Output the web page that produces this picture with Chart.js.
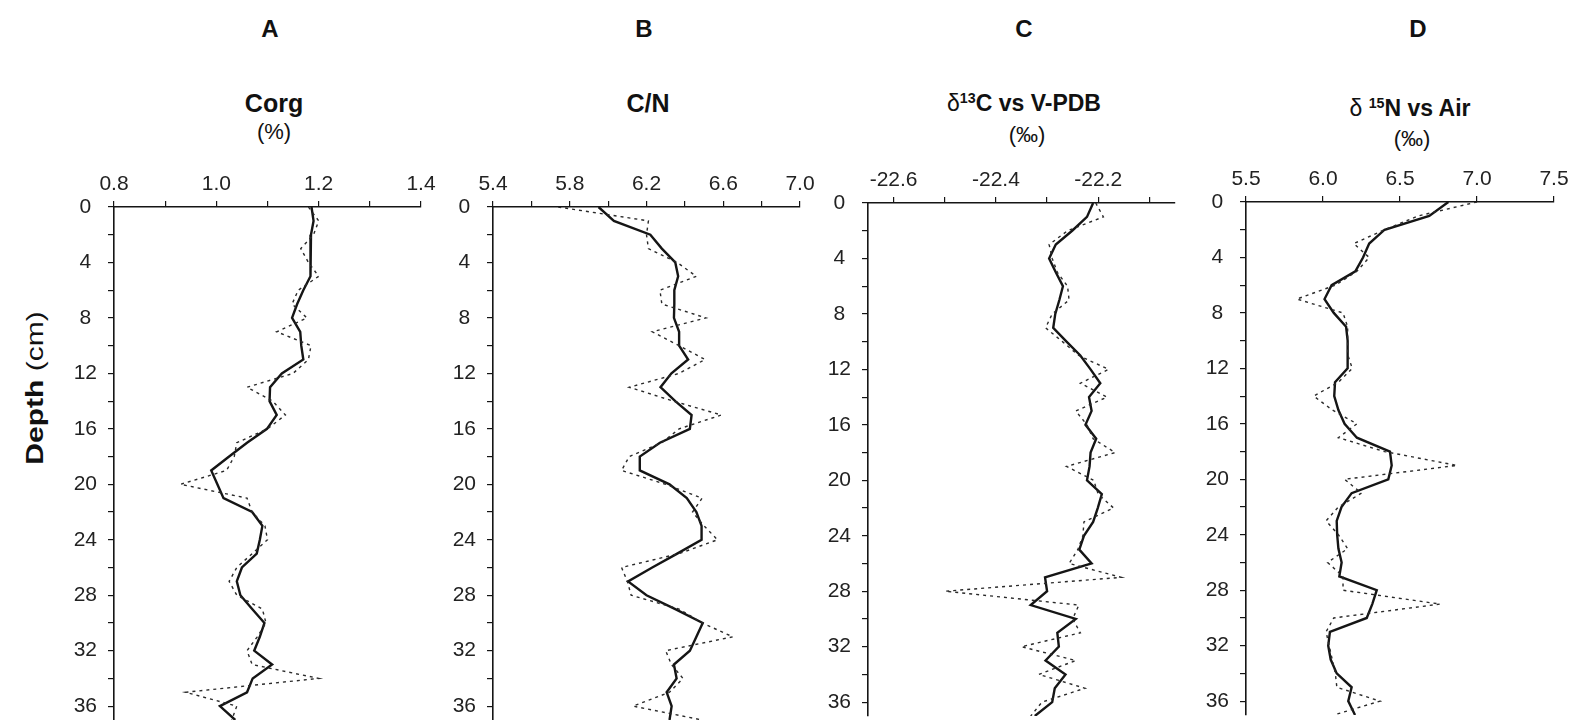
<!DOCTYPE html>
<html>
<head>
<meta charset="utf-8">
<script src="https://cdn.jsdelivr.net/npm/chart.js@4.4.1/dist/chart.umd.min.js"></script>
<style>
  html, body { margin: 0; padding: 0; background: #fff; width: 1577px; height: 720px; overflow: hidden; }
  .lbl { position: absolute; transform: translate(-50%, -50%); white-space: nowrap;
         font-family: 'Liberation Sans', Arial, sans-serif; color: #111; }
  .b { font-weight: bold; }
  sup { font-size: 0.62em; vertical-align: 0.55em; line-height: 0; }
</style>
</head>
<body>

<div class="lbl b" style="left:270px;top:29px;font-size:24px">A</div>
<div class="lbl b" style="left:644px;top:29px;font-size:24px">B</div>
<div class="lbl b" style="left:1024px;top:29px;font-size:24px">C</div>
<div class="lbl b" style="left:1418px;top:29px;font-size:24px">D</div>

<div class="lbl b" style="left:274px;top:103px;font-size:25px">Corg</div>
<div class="lbl" style="left:274px;top:132px;font-size:22px">(%)</div>
<div class="lbl b" style="left:648px;top:103px;font-size:25px">C/N</div>
<div class="lbl b" style="left:1024px;top:103px;font-size:23px"><span style="font-weight:normal">&delta;</span><sup>13</sup>C vs V-PDB</div>
<div class="lbl" style="left:1027px;top:135px;font-size:22px">(‰)</div>
<div class="lbl b" style="left:1410px;top:108px;font-size:23px"><span style="font-weight:normal">&delta;</span> <sup>15</sup>N vs Air</div>
<div class="lbl" style="left:1412px;top:139px;font-size:22px">(‰)</div>

<div class="lbl" style="left:35px;top:388px;font-size:24px;transform:translate(-50%,-50%) rotate(-90deg) scaleX(1.25)"><b>Depth</b> (cm)</div>

<script>
// profondeur (cm), un echantillon par cm
const depths = [0, 1, 2, 3, 4, 5, 6, 7, 8, 9, 10, 11, 12, 13, 14, 15, 16, 17, 18, 19,
                20, 21, 22, 23, 24, 25, 26, 27, 28, 29, 30, 31, 32, 33, 34, 35, 36, 37];
const depthTicks  = [0, 2, 4, 6, 8, 10, 12, 14, 16, 18, 20, 22, 24, 26, 28, 30, 32, 34, 36];
const depthLabels = ['0', '', '4', '', '8', '', '12', '', '16', '', '20', '', '24', '', '28', '', '32', '', '36'];

// A - Corg (%)
const corgRaw    = [1.18, 1.20, 1.19, 1.165, 1.18, 1.20, 1.16, 1.148, 1.177, 1.118, 1.185, 1.18, 1.15, 1.06, 1.11, 1.135, 1.10, 1.04, 1.035, 1.02,
                    0.93, 1.06, 1.07, 1.095, 1.10, 1.07, 1.04, 1.025, 1.04, 1.09, 1.097, 1.08, 1.06, 1.07, 1.20, 0.94, 1.04, 1.03];
const corgSmooth = [1.186, 1.19, 1.185, 1.184, 1.184, 1.184, 1.17, 1.158, 1.148, 1.164, 1.166, 1.17, 1.128, 1.105, 1.104, 1.118, 1.099, 1.06, 1.025, 0.99,
                    1.002, 1.014, 1.07, 1.09, 1.085, 1.079, 1.05, 1.04, 1.047, 1.07, 1.094, 1.085, 1.074, 1.109, 1.071, 1.06, 1.007, 1.037];
const corgTicks  = [0.8, 0.9, 1.0, 1.1, 1.2, 1.3, 1.4];
const corgLabels = ['0.8', '', '1.0', '', '1.2', '', '1.4'];

// B - C/N
const cnRaw    = [5.74, 6.21, 6.20, 6.21, 6.36, 6.46, 6.27, 6.28, 6.51, 6.23, 6.37, 6.505, 6.37, 6.11, 6.34, 6.59, 6.37, 6.28, 6.11, 6.07,
                  6.30, 6.49, 6.44, 6.50, 6.57, 6.37, 6.07, 6.10, 6.12, 6.37, 6.49, 6.65, 6.30, 6.33, 6.39, 6.32, 6.13, 6.49];
const cnSmooth = [5.95, 6.03, 6.22, 6.28, 6.35, 6.365, 6.345, 6.345, 6.343, 6.37, 6.37, 6.417, 6.33, 6.273, 6.35, 6.435, 6.426, 6.27, 6.165, 6.165,
                  6.32, 6.41, 6.46, 6.487, 6.487, 6.36, 6.23, 6.104, 6.2, 6.35, 6.493, 6.46, 6.426, 6.343, 6.357, 6.305, 6.331, 6.32];
const cnTicks  = [5.4, 5.6, 5.8, 6.0, 6.2, 6.4, 6.6, 6.8, 7.0];
const cnLabels = ['5.4', '', '5.8', '', '6.2', '', '6.6', '', '7.0'];

// C - d13C vs V-PDB (permil)
const c13Raw    = [-22.205, -22.19, -22.26, -22.296, -22.29, -22.28, -22.26, -22.257, -22.29, -22.303, -22.27, -22.238, -22.18, -22.235, -22.183, -22.244, -22.222, -22.21, -22.167, -22.262,
                   -22.209, -22.2, -22.17, -22.228, -22.23, -22.24, -22.257, -22.155, -22.499, -22.238, -22.25, -22.235, -22.35, -22.244, -22.316, -22.226, -22.31, -22.332];
const c13Smooth = [-22.21, -22.222, -22.251, -22.283, -22.296, -22.283, -22.269, -22.276, -22.284, -22.288, -22.262, -22.235, -22.215, -22.196, -22.218, -22.213, -22.225, -22.204, -22.215, -22.217,
                   -22.222, -22.193, -22.201, -22.21, -22.228, -22.237, -22.213, -22.304, -22.300, -22.332, -22.244, -22.280, -22.277, -22.303, -22.264, -22.285, -22.29, -22.324];
const c13Ticks  = [-22.6, -22.5, -22.4, -22.3, -22.2, -22.1];
const c13Labels = ['-22.6', '', '-22.4', '', '-22.2', ''];

// D - d15N vs Air (permil)
const n15Raw    = [7.00, 6.62, 6.40, 6.20, 6.30, 6.22, 6.08, 5.83, 6.13, 6.16, 6.16, 6.16, 6.19, 6.10, 5.94, 6.06, 6.22, 6.10, 6.40, 6.87,
                   6.14, 6.25, 6.10, 6.02, 6.10, 6.16, 6.03, 6.13, 6.13, 6.76, 6.07, 6.02, 6.04, 6.06, 6.08, 6.09, 6.37, 6.07];
const n15Smooth = [6.814, 6.69, 6.40, 6.30, 6.26, 6.21, 6.056, 6.01, 6.07, 6.15, 6.16, 6.16, 6.16, 6.078, 6.073, 6.10, 6.14, 6.22, 6.435, 6.446,
                   6.424, 6.186, 6.12, 6.089, 6.092, 6.10, 6.121, 6.106, 6.349, 6.32, 6.284, 6.045, 6.034, 6.05, 6.089, 6.186, 6.164, 6.208];
const n15Ticks  = [5.5, 6.0, 6.5, 7.0, 7.5];
const n15Labels = ['5.5', '6.0', '6.5', '7.0', '7.5'];

const Y_W = 60, X_H = 45, PAD_R = 25, PAD_B = 3, PLOT_H = 513;
const INK = '#151515';
const FONT = { family: "'Liberation Sans', Arial, sans-serif", size: 21 };

function buildPanel(p) {
  const canvas = document.createElement('canvas');
  canvas.width  = Y_W + p.width + PAD_R;
  canvas.height = X_H + PLOT_H + PAD_B;
  canvas.style.position = 'absolute';
  canvas.style.left = (p.left - Y_W) + 'px';
  canvas.style.top  = (p.top - X_H) + 'px';
  document.body.appendChild(canvas);

  const pts = vals => depths.map((d, i) => ({ x: vals[i], y: d }));

  new Chart(canvas, {
    type: 'scatter',
    data: {
      datasets: [
        { data: pts(p.raw),    showLine: true, borderColor: '#2a2a2a', borderWidth: 1.4, borderDash: [3, 4], pointRadius: 0 },
        { data: pts(p.smooth), showLine: true, borderColor: INK,       borderWidth: 2.4, pointRadius: 0 },
      ],
    },
    options: {
      responsive: false, animation: false, events: [],
      layout: { padding: { left: 0, top: 0, right: PAD_R, bottom: PAD_B } },
      plugins: { legend: { display: false }, tooltip: { enabled: false } },
      scales: {
        x: {
          type: 'linear', position: 'top', min: p.min, max: p.max,
          afterBuildTicks: s => { s.ticks = p.ticks.map(v => ({ value: v })); },
          afterFit: s => { s.height = X_H; s.paddingLeft = 0; s.paddingRight = 0; },
          ticks: { callback: (v, i) => p.labels[i], font: FONT, color: '#222', padding: 4, maxRotation: 0, autoSkip: false },
          grid: { drawOnChartArea: false, tickLength: 6, color: INK, lineWidth: 1.2 },
          border: { color: INK, width: 1.6 },
        },
        y: {
          type: 'linear', position: 'left', reverse: true, min: 0, max: 37,
          afterBuildTicks: s => { s.ticks = depthTicks.map(v => ({ value: v })); },
          afterFit: s => { s.width = Y_W; s.paddingTop = 0; s.paddingBottom = 0; },
          ticks: { callback: (v, i) => depthLabels[i], font: FONT, color: '#222', padding: 11, crossAlign: 'center', autoSkip: false },
          grid: { drawOnChartArea: false, tickLength: 6, color: INK, lineWidth: 1.2 },
          border: { color: INK, width: 1.6 },
        },
      },
    },
  });
}

buildPanel({ left: 114,  top: 207, width: 307, min: 0.8,    max: 1.4,    ticks: corgTicks, labels: corgLabels, raw: corgRaw, smooth: corgSmooth });
buildPanel({ left: 493,  top: 207, width: 307, min: 5.4,    max: 7.0,    ticks: cnTicks,   labels: cnLabels,   raw: cnRaw,   smooth: cnSmooth });
buildPanel({ left: 868,  top: 203, width: 307, min: -22.65, max: -22.05, ticks: c13Ticks,  labels: c13Labels,  raw: c13Raw,  smooth: c13Smooth });
buildPanel({ left: 1246, top: 202, width: 308, min: 5.5,    max: 7.5,    ticks: n15Ticks,  labels: n15Labels,  raw: n15Raw,  smooth: n15Smooth });
</script>
</body>
</html>
